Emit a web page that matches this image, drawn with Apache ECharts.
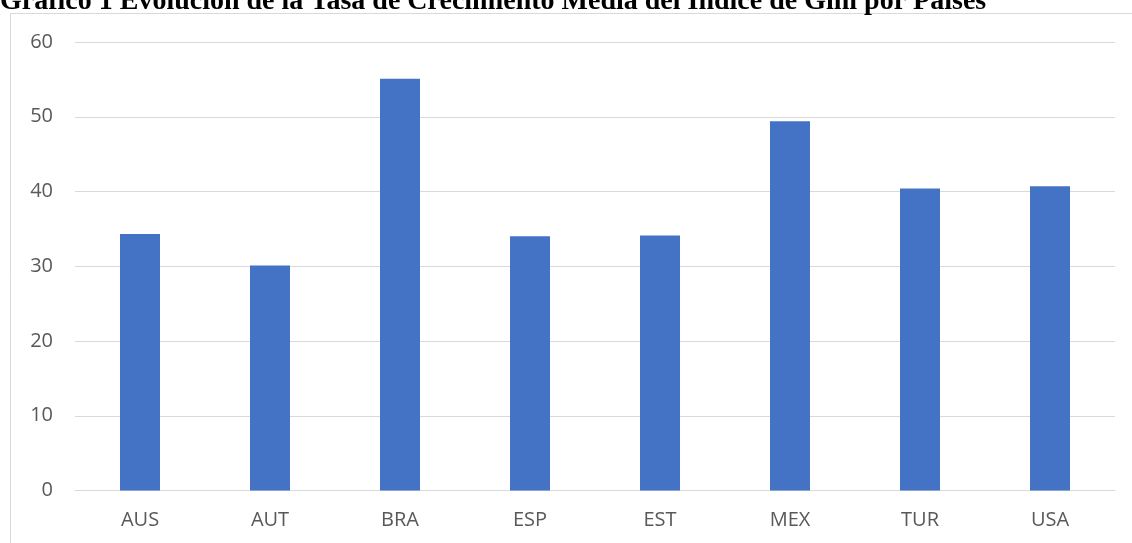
<!DOCTYPE html>
<html>
<head>
<meta charset="utf-8">
<script src="https://cdn.jsdelivr.net/npm/echarts@6/dist/echarts.min.js"></script>
<style>
html,body{margin:0;padding:0;background:#fff;}
#c{width:1132px;height:543px;}
</style>
</head>
<body>
<div id="c"></div>
<script>
var titleText = 'Gráfico 1 Evolución de la Tasa de Crecimiento Media del Índice de Gini por Países';
var categories = ['AUS', 'AUT', 'BRA', 'ESP', 'EST', 'MEX', 'TUR', 'USA'];
var giniValues = [34.3, 30.1, 55.1, 34.0, 34.1, 49.4, 40.4, 40.7];
var yTicks = [0, 10, 20, 30, 40, 50, 60];

var chart = echarts.init(document.getElementById('c'), null, {renderer: 'canvas'});
chart.setOption({
  animation: false,
  backgroundColor: '#ffffff',
  graphic: [
    {
      type: 'rect',
      silent: true,
      shape: {x: 10.5, y: 13.5, width: 1200, height: 600},
      style: {fill: 'none', stroke: '#d9d9d9', lineWidth: 1}
    },
    {
      type: 'text',
      silent: true,
      x: 0,
      y: 1.5,
      style: {
        text: titleText,
        fontFamily: '"Liberation Serif", "Times New Roman", serif',
        fontWeight: 'bold',
        fontSize: 28,
        fill: '#000000',
        verticalAlign: 'middle',
        align: 'left'
      }
    }
  ],
  grid: {left: 75, right: 17, top: 42, bottom: 52.5, containLabel: false},
  xAxis: {
    type: 'category',
    data: categories,
    axisLine: {show: true, lineStyle: {color: '#d9d9d9', width: 1}},
    axisTick: {show: false},
    axisLabel: {
      color: '#595959',
      fontFamily: '"Open Sans", sans-serif',
      fontSize: 20,
      margin: 20
    }
  },
  yAxis: {
    type: 'value',
    min: yTicks[0],
    max: yTicks[yTicks.length - 1],
    interval: 10,
    axisLine: {show: false},
    axisTick: {show: false},
    splitLine: {lineStyle: {color: '#d9d9d9', width: 1}},
    axisLabel: {
      color: '#595959',
      fontFamily: '"Open Sans", sans-serif',
      fontSize: 20,
      margin: 22
    }
  },
  series: [{
    type: 'bar',
    data: giniValues,
    barWidth: 40,
    itemStyle: {color: '#4472c4'}
  }]
});
</script>
</body>
</html>
